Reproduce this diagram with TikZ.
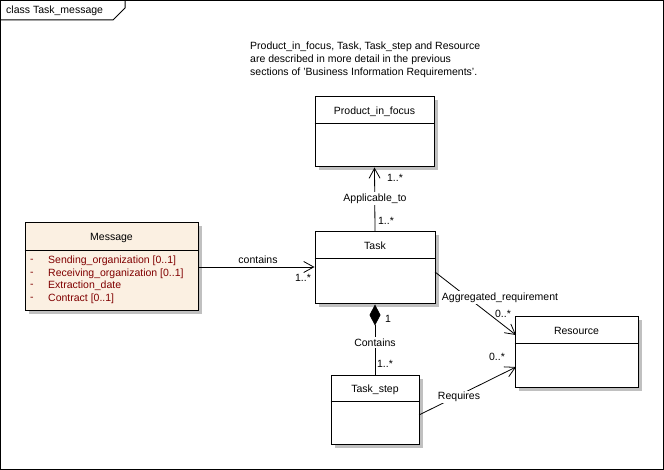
\documentclass[tikz,border=0pt]{standalone}
\usepackage{fontspec}
\setmainfont{Liberation Sans}
\usetikzlibrary{arrows.meta,shadows,calc}
\definecolor{msgfill}{HTML}{FBF0E2}
\definecolor{attr}{HTML}{800000}
\definecolor{shadowgray}{HTML}{C0C0C0}
\tikzset{
  txt/.style={font=\fontsize{10.5}{12}\selectfont, inner sep=0pt, text=black},
  lbl/.style={txt, fill=white, inner xsep=1pt, inner ysep=1.5pt},
  cls/.style={draw=black, line width=1pt, fill=white, inner sep=0pt,
    general shadow={fill=shadowgray, shadow xshift=3.5pt, shadow yshift=-3.5pt}},
  conn/.style={line width=0.8pt, draw=black},
  openarrow/.style={-{Straight Barb[length=10pt,width=11pt]}},
}
\begin{document}
\begin{tikzpicture}[x=1pt,y=-1pt]
\useasboundingbox (0,0) rectangle (664,470);
% frame
\draw[line width=1pt] (0.5,0.5) rectangle (663,469);
\draw[line width=1pt] (0.5,20) -- (113,20) -- (125,8) -- (125,0.5);
\node[txt, anchor=west] (title) at (6,10.5) {class Task\_message};

% note
\node[txt, anchor=west] (note1) at (250,46.5) {Product\_in\_focus, Task, Task\_step and Resource};
\node[txt, anchor=west] (note2) at (250,59.5) {are described in more detail in the previous};
\node[txt, anchor=west] (note3) at (250,72.5) {sections of 'Business Information Requirements'.};

% classes
\node[cls, minimum width=119pt, minimum height=70pt] (product) at (374.5,132) {};
\draw[line width=1pt] ($(product.north west)+(0,27)$) -- ($(product.north east)+(0,27)$);
\node[txt] (productname) at (374.5,112) {Product\_in\_focus};

\node[cls, minimum width=120pt, minimum height=72pt] (task) at (375,268) {};
\draw[line width=1pt] ($(task.north west)+(0,27)$) -- ($(task.north east)+(0,27)$);
\node[txt] (taskname) at (375,246) {Task};

\node[cls, minimum width=123pt, minimum height=70pt] (resource) at (576.5,352) {};
\draw[line width=1pt] ($(resource.north west)+(0,27)$) -- ($(resource.north east)+(0,27)$);
\node[txt] (resourcename) at (576.5,331) {Resource};

\node[cls, minimum width=88pt, minimum height=69pt] (taskstep) at (375,409.5) {};
\draw[line width=1pt] ($(taskstep.north west)+(0,27)$) -- ($(taskstep.north east)+(0,27)$);
\node[txt] (taskstepname) at (375,390) {Task\_step};

\node[cls, fill=msgfill, minimum width=173pt, minimum height=88pt] (message) at (111.5,267) {};
\draw[line width=1pt] ($(message.north west)+(0,28)$) -- ($(message.north east)+(0,28)$);
\node[txt] (messagename) at (111.5,238) {Message};
\foreach \t/\y [count=\i] in {Sending\_organization [0..1]/261,Receiving\_organization [0..1]/273.5,Extraction\_date/286,Contract [0..1]/298.5}{
  \node[txt, text=attr, anchor=west] (dash\i) at (30,\y) {-};
  \node[txt, text=attr, anchor=west] (attr\i) at (48,\y) {\t};
}

% connectors
\draw[conn, openarrow] (message.east) -- (message.east -| task.west);
\node[txt] (lcontains) at (258,260) {contains};
\node[txt] (mcontains) at (303,278) {1..*};

\draw[conn, openarrow] (task.north) -- (product.south);
\node[lbl] (lapplic) at (375,198.5) {Applicable\_to};
\node[txt] (mapp1) at (395,178) {1..*};
\node[txt] (mapp2) at (386,221) {1..*};

\draw[conn, {Diamond[length=21pt,width=11pt]}-] (task.south) -- (taskstep.north);
\node[lbl] (lcomp) at (375,342.5) {Contains};
\node[txt] (mcomp1) at (388,318.5) {1};
\node[txt] (mcomp2) at (385,364) {1..*};

\coordinate (aggS) at (435,272);
\coordinate (aggE) at (516,335);
\draw[conn, openarrow] (aggS) -- (aggE);
\node[lbl] (lagg) at (500,297.5) {Aggregated\_requirement};
\node[txt] (magg) at (503,314) {0..*};

\coordinate (reqS) at (419,415);
\coordinate (reqE) at (516,367);
\draw[conn, openarrow] (reqS) -- (reqE);
\node[lbl] (lreq) at (459,397) {Requires};
\node[txt] (mreq) at (497,357) {0..*};
\end{tikzpicture}
\end{document}
